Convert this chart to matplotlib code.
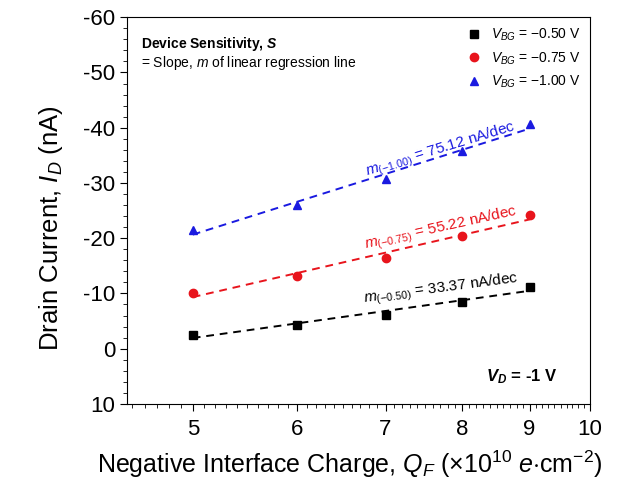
import numpy as np
import matplotlib.pyplot as plt
from matplotlib.ticker import MultipleLocator, FixedLocator, NullFormatter

plt.rcParams['font.family'] = ['Liberation Sans', 'DejaVu Sans']
plt.rcParams['mathtext.fontset'] = 'custom'
plt.rcParams['mathtext.rm'] = 'Liberation Sans'
plt.rcParams['mathtext.it'] = 'Liberation Sans:italic'
plt.rcParams['mathtext.bf'] = 'Liberation Sans:bold'
plt.rcParams['mathtext.bfit'] = 'Liberation Sans:bold:italic'
plt.rcParams['axes.unicode_minus'] = False

# Negative interface charge (x1e10 e/cm^2)
qf = np.array([5, 6, 7, 8, 9])

# Drain current (nA) for each back-gate bias
id_050 = np.array([-2.5, -4.3, -6.1, -8.5, -11.2])
id_075 = np.array([-10.1, -13.2, -16.5, -20.4, -24.2])
id_100 = np.array([-21.5, -26.0, -30.7, -35.8, -40.7])

labels = ['$V_{BG}$ = \u22120.50 V', '$V_{BG}$ = \u22120.75 V', '$V_{BG}$ = \u22121.00 V']
slopes = ['$m_{(-0.50)}$ = 33.37 nA/dec', '$m_{(-0.75)}$ = 55.22 nA/dec',
          '$m_{(-1.00)}$ = 75.12 nA/dec']

fig = plt.figure(figsize=(6.19, 4.92), dpi=100)
ax = fig.add_axes([0.205, 0.179, 0.748, 0.786])

series = [id_050, id_075, id_100]
colors = ['black', '#e8141c', '#1a1ae0']
markers = ['s', 'o', '^']
txt_pos = [(7.71, -10.8, 7.5), (7.71, -21.8, 12.5), (7.71, -36.0, 17)]

for y, c, mk, lab, s, (tx, ty, rot) in zip(series, colors, markers, labels, slopes, txt_pos):
    ax.plot(qf, y, linestyle='none', marker=mk, color=c, markersize=6, label=lab)
    p = np.polyfit(np.log10(qf), y, 1)
    xf = np.linspace(5, 9, 50)
    ax.plot(xf, np.polyval(p, np.log10(xf)), '--', color=c, lw=1.4, dashes=(4, 3))
    ax.text(tx, ty, s, color=c, fontsize=11, rotation=rot, ha='center', va='center',
            rotation_mode='anchor')

ax.set_xscale('log')
ax.set_xlim(4.457, 10)
ax.set_ylim(10, -60)
ax.xaxis.set_major_locator(FixedLocator([5, 6, 7, 8, 9, 10]))
ax.xaxis.set_major_formatter(plt.FuncFormatter(lambda v, p: f'{v:g}'))
ax.xaxis.set_minor_locator(FixedLocator(np.arange(4.5, 10.0, 0.1)))
ax.xaxis.set_minor_formatter(NullFormatter())
ax.yaxis.set_major_locator(MultipleLocator(10))
ax.yaxis.set_minor_locator(MultipleLocator(2))

ax.tick_params(which='both', direction='out', labelsize=16, top=False, right=False)
ax.tick_params(which='major', length=5)
ax.tick_params(which='minor', length=3)
ax.tick_params(axis='x', which='major', pad=6)

ax.set_xlabel('Negative Interface Charge, $Q_F$ ($\\times$10$^{10}$ $e$$\\cdot$cm$^{-2}$)',
              fontsize=18, labelpad=8)
ax.xaxis.set_label_coords(0.482, -0.115)
ax.set_ylabel('Drain Current, $I_D$ (nA)', fontsize=18.5)
ax.yaxis.set_label_coords(-0.134, 0.455)

ax.text(0.03, 0.955, 'Device Sensitivity, $\\mathbfit{S}$', transform=ax.transAxes,
        fontsize=10, fontweight='bold', va='top')
ax.text(0.03, 0.905, '= Slope, $m$ of linear regression line', transform=ax.transAxes,
        fontsize=10, va='top')
ax.text(0.93, 0.07, '$\\mathbfit{V_D}$ = -1 V', transform=ax.transAxes,
        fontsize=12, fontweight='bold', ha='right', va='center')

ax.legend(loc='upper right', frameon=False, fontsize=10, handletextpad=0.6,
          borderaxespad=0.3, labelspacing=0.5, handlelength=1.2)

fig.savefig('out.png', dpi=100)
